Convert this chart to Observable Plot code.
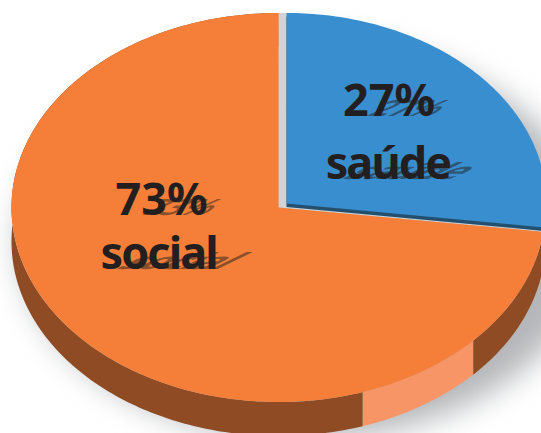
<!DOCTYPE html>
<html lang="pt">
<head>
<meta charset="utf-8">
<script src="https://cdn.jsdelivr.net/npm/d3@7"></script>
<script src="https://cdn.jsdelivr.net/npm/@observablehq/plot@0.6"></script>
<style>
  html, body { margin: 0; padding: 0; background: #fff; overflow: hidden; width: 541px; height: 433px; }
  svg { display: block; }
</style>
</head>
<body>
<div id="chart"></div>
<script>
// Shares of the pie, clockwise from twelve o'clock
const categories = ["saúde", "social"];
const shares = [27, 73];
const faceColors = ["#398ECF", "#F57F38"];

// Rim of the orange slice: share of the full turn taken by each band, clockwise from the top
const rimShares = [37, 7.9, 55.1];
const rimColors = ["#8F4B23", "#F79566", "#8F4B23"];

// Label lines and their anchors in disc units
const labelLines = ["27%", "saúde", "73%", "social"];
const labelX = [0.414, 0.41, -0.438, -0.449];
const labelY = [0.473, 0.144, -0.036, -0.314];

const TAU = 2 * Math.PI;
const depth = 0.175;      // height of the rim, in disc units
const blue = {dx: 0.03, dy: 0.02, rx: 0.974, ry: 0.98};

// Points along an arc of the disc between two fractions of a turn
function arc(from, to, {dx = 0, dy = 0, rx = 1, ry = 1} = {}) {
  const n = Math.max(2, Math.ceil(Math.abs(to - from) * 360));
  return d3.range(n + 1).map(i => {
    const a = (from + (to - from) * i / n) * TAU;
    return {x: dx + rx * Math.sin(a), y: dy + ry * Math.cos(a)};
  });
}
const wedge = (from, to, o = {}) => [{x: o.dx ?? 0, y: o.dy ?? 0}, ...arc(from, to, o)];
const poly = (pts, fill, extra = {}) =>
  Plot.line(pts, {x: "x", y: "y", fill, stroke: "none", ...extra});

const blueEnd = shares[0] / 100;

// Rim bands, clipped to the stretch that belongs to the orange slice
let acc = 0;
const rimMarks = rimShares.map((s, i) => {
  const from = Math.max(acc / 100, blueEnd);
  acc += s;
  const to = acc / 100;
  const top = arc(from, to);
  const bottom = arc(to, from, {dy: -depth});
  return poly([...top, ...bottom], rimColors[i]);
});

const isWord = t => !t.textContent.includes("%");

// The word lines are set slightly tighter than the percentages
const tightenWords = (index, scales, values, dimensions, context, next) => {
  const g = next(index, scales, values, dimensions, context);
  g.querySelectorAll("text").forEach(t => {
    if (isWord(t)) t.setAttribute("letter-spacing", "-1.9");
  });
  return g;
};

// Sheared copy of each label, lying on the face behind the text
const shearLabel = (index, scales, values, dimensions, context, next) => {
  const g = tightenWords(index, scales, values, dimensions, context, next);
  g.querySelectorAll("text").forEach(t => {
    const m = t.getAttribute("transform") || "";
    const shear = isWord(t)
      ? "translate(8,0) skewX(-64) scale(0.9,0.5)"
      : "translate(10,0) skewX(-55) scale(0.72,0.5)";
    t.setAttribute("transform", `${m} ${shear}`);
  });
  return g;
};

const labels = labelLines.map((text, i) => ({text, x: labelX[i], y: labelY[i]}));
const textStyle = {
  x: "x", y: "y", text: "text",
  fontFamily: "'Noto Sans', sans-serif", fontWeight: 700, fontSize: 45,
  textAnchor: "middle", lineAnchor: "bottom"
};

const chart = Plot.plot({
  width: 541,
  height: 433,
  margin: 0,
  x: {domain: [-1, 1], range: [11, 545], axis: null},
  y: {domain: [-1, 1], range: [401.5, 12.5], axis: null},
  style: {background: "#fff"},
  marks: [
    // soft cast shadow under the disc
    poly(arc(0, 1, {dx: 0.1, dy: -0.17, rx: 1.07, ry: 1.02}), "#b4b6b9", {imageFilter: "blur(15px)"}),
    ...rimMarks,
    // gap opened by the pulled-out slice
    poly(wedge(0, blueEnd), "#D2D3D5"),
    // orange face
    poly(wedge(blueEnd, 1), faceColors[1]),
    // thin dark edge and face of the blue slice
    poly(wedge(0, blueEnd, {...blue, dy: blue.dy - 0.018}), "#23506F"),
    poly(wedge(0, blueEnd, blue), faceColors[0]),
    Plot.text(labels, {...textStyle, fill: "#231F20", fillOpacity: 0.5, render: shearLabel}),
    Plot.text(labels, {...textStyle, fill: "#231F20", render: tightenWords})
  ]
});
document.getElementById("chart").append(chart);
</script>
</body>
</html>
